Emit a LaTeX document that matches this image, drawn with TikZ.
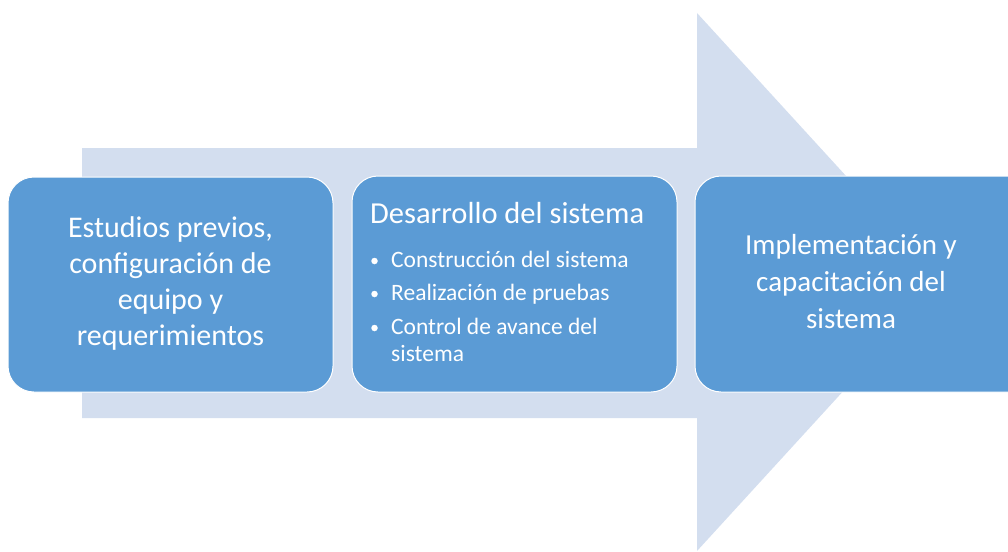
\documentclass[tikz,border=0pt]{standalone}
\usepackage{fontspec}
\setmainfont{Carlito}
\definecolor{arrowfill}{HTML}{D3DEEF}
\definecolor{boxfill}{HTML}{5B9BD5}
\tikzset{
  stage/.style={draw=white, line width=1pt, fill=boxfill, rounded corners=26pt, text=white},
  txt/.style={text=white, inner sep=0pt},
  bul/.style={txt, anchor=base west, font=\fontsize{23.5}{29}\selectfont},
  dot/.style={circle, fill=white, inner sep=0pt, minimum size=6.5pt},
}
\begin{document}
\begin{tikzpicture}[x=1pt,y=-1pt]
\useasboundingbox (0,0) rectangle (1008,551);
% big arrow
\fill[arrowfill] (82,148) -- (697,148) -- (697,13) -- (943,282) -- (697,551) -- (697,418) -- (82,418) -- cycle;
% boxes
\draw[stage] (8,177) rectangle (333,392);
\draw[stage] (352,176) rectangle (677,392);
\draw[stage] (695,176) rectangle (1040,392);
\node[txt, align=center, font=\fontsize{30}{36}\selectfont] (b1) at (170.5,283) {Estudios previos,\\configuración de\\equipo y\\requerimientos};
\node[txt, anchor=base west, font=\fontsize{30.5}{36}\selectfont] (b2t) at (370,223) {Desarrollo del sistema};
\node[dot] (d1) at (374.5,261) {};
\node[dot] (d2) at (374.5,294) {};
\node[dot] (d3) at (374.5,328) {};
\node[bul] (l1) at (391,267) {Construcción del sistema};
\node[bul] (l2) at (391,300) {Realización de pruebas};
\node[bul] (l3) at (391,334) {Control de avance del};
\node[bul] (l4) at (391,361) {sistema};
\node[txt, align=center, font=\fontsize{29}{37}\selectfont] (b3) at (851,282) {Implementación y\\capacitación del\\sistema};
\end{tikzpicture}
\end{document}
